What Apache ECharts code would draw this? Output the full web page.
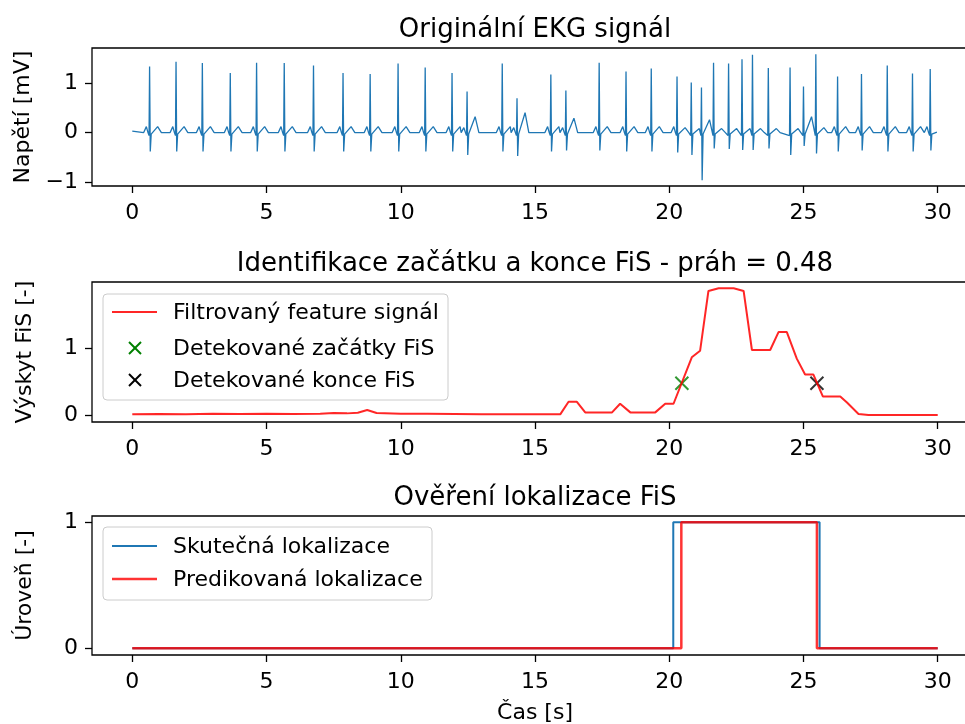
<!DOCTYPE html>
<html>
<head>
<meta charset="utf-8">
<script src="https://cdn.jsdelivr.net/npm/echarts@6/dist/echarts.min.js"></script>
<style>
  html, body { margin: 0; padding: 0; background: #fff; }
  #chart { width: 965px; height: 724px; }
</style>
</head>
<body>
<div id="chart"></div>
<script>
// ---- ECG beats (R-peak time [s], R amplitude, S trough, T wave, P wave) [mV] ----
const beatTimes = [0.645, 1.63, 2.61, 3.65, 4.63, 5.66, 6.75, 7.85, 8.86, 9.90, 10.91, 11.91,
  12.47, 13.78, 14.33, 15.59, 16.15, 17.39, 18.39, 19.33, 20.29, 20.82, 21.20, 21.65,
  22.21, 22.71, 23.10, 23.69, 24.50, 25.00, 25.46, 26.27, 27.16, 28.12, 29.06, 29.72];
const rPeaks = [1.33, 1.43, 1.40, 1.20, 1.41, 1.40, 1.35, 1.20, 1.18, 1.39, 1.31, 1.20,
  0.83, 1.39, 0.69, 1.17, 0.85, 1.41, 1.23, 1.29, 1.13, 1.01, 0.91, 1.41,
  1.39, 1.48, 1.57, 1.30, 1.31, 0.93, 1.58, 1.13, 1.18, 1.35, 1.19, 1.28];
const sTroughs = [-0.38, -0.38, -0.38, -0.38, -0.38, -0.38, -0.38, -0.38, -0.38, -0.38, -0.38, -0.38,
  -0.45, -0.38, -0.47, -0.38, -0.36, -0.36, -0.38, -0.38, -0.40, -0.45, -0.96, -0.32,
  -0.33, -0.35, -0.35, -0.32, -0.45, -0.27, -0.42, -0.38, -0.36, -0.38, -0.38, -0.36];
const tWaves = [0.12, 0.12, 0.12, 0.12, 0.12, 0.12, 0.12, 0.12, 0.12, 0.12, 0.12, 0.12,
  0.32, 0.12, 0.40, 0.12, 0.29, 0.12, 0.12, 0.12, 0.10, 0.08, 0.26, 0.08,
  0.08, 0.08, 0.08, 0.08, 0.08, 0.32, 0.10, 0.12, 0.12, 0.12, 0.12, 0.12];
const pWaves = [0.12, 0.12, 0.12, 0.12, 0.12, 0.12, 0.12, 0.12, 0.12, 0.12, 0.12, 0.12,
  0.10, 0.12, 0.10, 0.12, 0.10, 0.12, 0.12, 0.12, 0.12, 0, 0, 0,
  0, 0, 0, 0, 0, 0, 0, 0.12, 0.12, 0.12, 0.12, 0.12];
const ecgStart = 0, ecgEnd = 29.97;

// ---- Filtered feature signal ----
const featTimes = [0, 1, 2, 3, 4, 5, 6, 7, 7.5, 8.0, 8.4, 8.75, 9.1, 10, 11, 12, 13, 14, 15,
  15.94, 16.25, 16.56, 16.87, 17.87, 18.17, 18.55, 19.48, 19.85, 20.16, 20.84, 21.15, 21.46,
  21.84, 22.4, 22.77, 23.08, 23.76, 24.07, 24.38, 24.75, 25.06, 25.37, 25.72, 26.37, 26.62,
  27.05, 27.42, 30];
const featValues = [0.01, 0.015, 0.012, 0.02, 0.015, 0.02, 0.015, 0.02, 0.03, 0.025, 0.035, 0.075,
  0.03, 0.02, 0.02, 0.015, 0.01, 0.01, 0.01, 0.01, 0.2, 0.2, 0.04, 0.04, 0.17, 0.04, 0.04, 0.17,
  0.17, 0.87, 0.97, 1.87, 1.91, 1.91, 1.87, 0.98, 0.98, 1.25, 1.25, 0.85, 0.61, 0.61, 0.28, 0.28,
  0.19, 0.015, 0.0, 0.0];
const threshold = 0.48;
const detectedStarts = [20.47];
const detectedEnds = [25.50];

// ---- Localization (onset, offset) ----
const trueOnsets = [20.15], trueOffsets = [25.60];
const predOnsets = [20.45], predOffsets = [25.50];
const locStart = 0, locEnd = 30;

const xTicks = [0, 5, 10, 15, 20, 25, 30];

// Build the ECG polyline from the per-beat wave amplitudes
function buildEcg() {
  const pts = [[ecgStart, 0.03]];
  for (let i = 0; i < beatTimes.length; i++) {
    const t = beatTimes[i];
    const next = i + 1 < beatTimes.length ? beatTimes[i + 1] : ecgEnd + 1;
    const pre = [];
    if (pWaves[i] > 0) pre.push([-0.22, 0], [-0.12, pWaves[i]], [-0.06, 0]);
    pre.push([-0.02, -0.06]);
    const post = [[0.025, sTroughs[i]], [0.06, -0.03], [0.12, 0], [0.3, tWaves[i]], [0.44, 0]];
    const nextLead = (i + 1 < pWaves.length && pWaves[i + 1] > 0) ? 0.24 : 0.06;
    pre.forEach(([o, v]) => { if (t + o > pts[pts.length - 1][0]) pts.push([t + o, v]); });
    pts.push([t, rPeaks[i]]);
    post.forEach(([o, v]) => { if (t + o < next - nextLead && t + o < ecgEnd) pts.push([t + o, v]); });
  }
  pts.push([ecgEnd, 0.01]);
  return pts;
}

function stepSeries(onsets, offsets) {
  const pts = [[locStart, 0]];
  onsets.forEach((on, i) => {
    pts.push([on, 0], [on, 1], [offsets[i], 1], [offsets[i], 0]);
  });
  pts.push([locEnd, 0]);
  return pts;
}

const FONT = 'DejaVu Sans';
const FS = 22;
const grids = [
  { left: 92, right: -13, top: 48, height: 138 },
  { left: 92, right: -13, top: 282, height: 140 },
  { left: 92, right: -13, top: 516, height: 139 }
];
const yRanges = [[-1.077, 1.705, [-1, 0, 1]], [-0.105, 2.005, [0, 1]], [-0.053, 1.05, [0, 1]]];
const yNames = ['Napětí [mV]', 'Výskyt FiS [-]', 'Úroveň [-]'];
const titles = ['Originální EKG signál', 'Identifikace začátku a konce FiS - práh = 0.48', 'Ověření lokalizace FiS'];
const titleTops = [17, 251, 485];

const fmt = v => String(v).replace('-', '\u2212');

const xAxes = grids.map((g, i) => ({
  type: 'value', gridIndex: i, min: -1.5, max: 31.5,
  splitLine: { show: false },
  axisLine: { show: false, onZero: false },
  axisTick: { show: true, length: 7, lineStyle: { color: '#000', width: 1.3 }, customValues: xTicks },
  axisLabel: { show: true, customValues: xTicks, margin: 16, fontSize: FS, fontFamily: FONT, color: '#000', formatter: fmt },
  name: i === 2 ? 'Čas [s]' : '', nameLocation: 'middle', nameGap: 47,
  nameTextStyle: { fontSize: FS, fontFamily: FONT, color: '#000' }
}));
const yAxes = grids.map((g, i) => ({
  type: 'value', gridIndex: i, min: yRanges[i][0], max: yRanges[i][1],
  splitLine: { show: false },
  axisLine: { show: false, onZero: false },
  axisTick: { show: true, length: 7, lineStyle: { color: '#000', width: 1.3 }, customValues: yRanges[i][2] },
  axisLabel: { show: true, customValues: yRanges[i][2], margin: 14, fontSize: FS, fontFamily: FONT, color: '#000', formatter: fmt },
  name: yNames[i], nameLocation: 'middle', nameGap: 56, nameRotate: 90,
  nameTextStyle: { fontSize: FS, fontFamily: FONT, color: '#000' }
}));

const xMark = 'path://M0,0L10,10M10,0L0,10';

const series = [
  {
    type: 'line', xAxisIndex: 0, yAxisIndex: 0, data: buildEcg(),
    showSymbol: false, symbol: 'none', lineStyle: { color: '#1f77b4', width: 1.3 }, animation: false
  },
  {
    type: 'line', xAxisIndex: 1, yAxisIndex: 1, name: 'Filtrovaný feature signál',
    data: featTimes.map((t, i) => [t, featValues[i]]),
    showSymbol: false, symbol: 'none', lineStyle: { color: '#ff0000', width: 2, opacity: 0.85 }, animation: false
  },
  {
    type: 'scatter', xAxisIndex: 1, yAxisIndex: 1, name: 'Detekované začátky FiS',
    data: detectedStarts.map(t => [t, threshold]), symbol: xMark, symbolSize: 13,
    itemStyle: { color: 'rgba(0,0,0,0)', borderColor: '#008000', borderWidth: 2 }, animation: false
  },
  {
    type: 'scatter', xAxisIndex: 1, yAxisIndex: 1, name: 'Detekované konce FiS',
    data: detectedEnds.map(t => [t, threshold]), symbol: xMark, symbolSize: 13,
    itemStyle: { color: 'rgba(0,0,0,0)', borderColor: '#000000', borderWidth: 2 }, animation: false
  },
  {
    type: 'line', xAxisIndex: 2, yAxisIndex: 2, name: 'Skutečná lokalizace',
    data: stepSeries(trueOnsets, trueOffsets),
    showSymbol: false, symbol: 'none', lineStyle: { color: '#1f77b4', width: 2 }, animation: false
  },
  {
    type: 'line', xAxisIndex: 2, yAxisIndex: 2, name: 'Predikovaná lokalizace',
    data: stepSeries(predOnsets, predOffsets),
    showSymbol: false, symbol: 'none', lineStyle: { color: '#ff0000', width: 2.5, opacity: 0.8 }, animation: false
  }
];

// Legend boxes drawn as graphic elements
function legendBox(x, y, w, h, rows) {
  const els = [{
    type: 'rect', shape: { x: x, y: y, width: w, height: h, r: 4 },
    style: { fill: 'rgba(255,255,255,0.8)', stroke: '#cccccc', lineWidth: 1 }, z: 10
  }];
  rows.forEach(r => {
    if (r.kind === 'line') {
      els.push({ type: 'line', shape: { x1: x + 9, y1: r.y, x2: x + 54, y2: r.y },
        style: { stroke: r.color, lineWidth: r.width, opacity: r.opacity || 1 }, z: 11 });
    } else {
      const cx = x + 32, s = 6;
      els.push({ type: 'polyline', shape: { points: [[cx - s, r.y - s], [cx + s, r.y + s]] },
        style: { stroke: r.color, lineWidth: 2, fill: null }, z: 11 });
      els.push({ type: 'polyline', shape: { points: [[cx + s, r.y - s], [cx - s, r.y + s]] },
        style: { stroke: r.color, lineWidth: 2, fill: null }, z: 11 });
    }
    els.push({ type: 'text', x: x + 70, y: r.y + 1,
      style: { text: r.text, fontSize: FS, fontFamily: FONT, fill: '#000', textVerticalAlign: 'middle', textAlign: 'left' }, z: 11 });
  });
  return els;
}

const graphics = [].concat(
  legendBox(103, 294, 345, 106, [
    { kind: 'line', y: 312, color: '#ff0000', width: 2, opacity: 0.85, text: series[1].name },
    { kind: 'x', y: 348, color: '#008000', text: series[2].name },
    { kind: 'x', y: 380, color: '#000000', text: series[3].name }
  ]),
  legendBox(103, 527, 329, 73, [
    { kind: 'line', y: 546, color: '#1f77b4', width: 2, text: series[4].name },
    { kind: 'line', y: 579, color: '#ff0000', width: 2.5, opacity: 0.8, text: series[5].name }
  ])
);

const chart = echarts.init(document.getElementById('chart'), null, { renderer: 'canvas' });
chart.setOption({
  backgroundColor: '#ffffff',
  animation: false,
  title: titles.map((t, i) => ({
    text: t, left: 535, top: titleTops[i], textAlign: 'center', padding: 0,
    textStyle: { fontSize: 26, fontWeight: 'normal', fontFamily: FONT, color: '#000' }
  })),
  grid: grids.map(g => Object.assign({ show: true, outerBoundsMode: 'none', containLabel: false,
    borderColor: '#000', borderWidth: 1.3, backgroundColor: 'transparent' }, g)),
  xAxis: xAxes,
  yAxis: yAxes,
  series: series,
  graphic: graphics
});
</script>
</body>
</html>
